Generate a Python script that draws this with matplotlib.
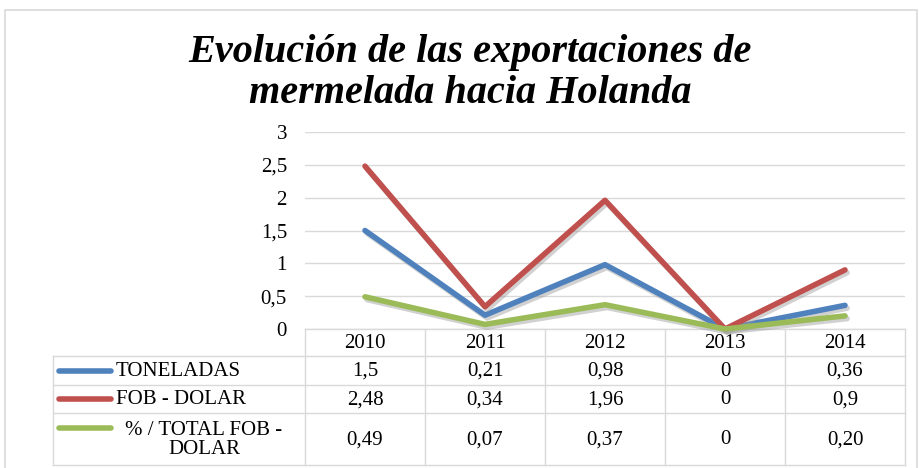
import matplotlib
matplotlib.use("Agg")
import matplotlib.pyplot as plt
import matplotlib.patheffects as pe

years = ["2010", "2011", "2012", "2013", "2014"]
series_names = ["TONELADAS", "FOB - DOLAR", "% / TOTAL FOB -\nDOLAR"]
toneladas = [1.5, 0.21, 0.98, 0, 0.36]
fob_dolar = [2.48, 0.34, 1.96, 0, 0.9]
pct_total = [0.49, 0.07, 0.37, 0, 0.20]
table_text = [["1,5", "0,21", "0,98", "0", "0,36"],
              ["2,48", "0,34", "1,96", "0", "0,9"],
              ["0,49", "0,07", "0,37", "0", "0,20"]]
yticks = [0, 0.5, 1, 1.5, 2, 2.5, 3]
ytick_labels = ["0", "0,5", "1", "1,5", "2", "2,5", "3"]
colors = ["#4F81BD", "#C0504D", "#9BBB59"]
title = "Evolución de las exportaciones de\nmermelada hacia Holanda"

W, H = 919, 468
fig = plt.figure(figsize=(W / 100, H / 100), dpi=100)
plt.rcParams['font.family'] = ['Liberation Serif', 'DejaVu Serif']
FS = 15

# overlay for frame and table (pixel coords)
ov = fig.add_axes([0, 0, 1, 1])
ov.set_xlim(0, W)
ov.set_ylim(H, 0)
ov.axis('off')

# main axes
x0, x1 = 305, 905
y0, y3 = 329, 132
ax = fig.add_axes([x0 / W, 1 - y0 / H, (x1 - x0) / W, (y0 - y3) / H])
ax.set_xlim(-0.5, len(years) - 0.5)
ax.set_ylim(0, 3)
ax.set_yticks(yticks)
ax.set_yticklabels(ytick_labels, fontsize=FS)
ax.set_xticks([])
ax.tick_params(axis='y', length=0, pad=13)
for s in ax.spines.values():
    s.set_visible(False)
ax.grid(axis='y', color='#D9D9D9', linewidth=1)
ax.set_axisbelow(True)
ax.patch.set_alpha(0)
shadow = [pe.SimpleLineShadow(offset=(1.5, -2), shadow_color='#999999', alpha=0.45), pe.Normal()]
for vals, c in zip([toneladas, fob_dolar, pct_total], colors):
    ax.plot(range(len(years)), vals, color=c, linewidth=4, solid_capstyle='round',
            solid_joinstyle='round', path_effects=shadow, clip_on=False)

# title
fig.text(470 / W, 1 - 73 / H, title, ha='center', va='center', fontsize=29,
         fontweight='bold', fontstyle='italic', linespacing=1.15)

# outer frame
ov.plot([5, 5, W - 2, W - 2], [H, 10, 10, H], color='#D9D9D9', linewidth=1.2)

# table
grid_c = '#D9D9D9'
row_edges = [329, 356, 385, 413, 465]
left = 53
col_w = (x1 - x0) / len(years)
col_edges = [x0 + i * col_w for i in range(len(years) + 1)]
ov.plot([x0, x1], [row_edges[0]] * 2, color=grid_c, lw=1)
for r in row_edges[1:]:
    ov.plot([left, x1], [r, r], color=grid_c, lw=1)
ov.plot([left, left], [row_edges[1], row_edges[-1]], color=grid_c, lw=1)
for c in col_edges:
    ov.plot([c, c], [row_edges[0], row_edges[-1]], color=grid_c, lw=1)
for i, yv in enumerate(years):
    ov.text((col_edges[i] + col_edges[i + 1]) / 2, (row_edges[0] + row_edges[1]) / 2 + 1, yv,
            ha='center', va='center', fontsize=FS)
legend_y = [371, 399, 428]
for r, (name, c) in enumerate(zip(series_names, colors)):
    yc = (row_edges[r + 1] + row_edges[r + 2]) / 2
    ov.plot([59, 111], [legend_y[r], legend_y[r]], color=c, lw=4, solid_capstyle='round')
    if '\n' in name:
        ov.text(204, yc + 1, name, ha='center', va='center', fontsize=FS,
                multialignment='center', linespacing=1.05)
    else:
        ov.text(116, yc + 1, name, ha='left', va='center', fontsize=FS)
    for i in range(len(years)):
        ov.text((col_edges[i] + col_edges[i + 1]) / 2, yc + 1, table_text[r][i],
                ha='center', va='center', fontsize=FS)

fig.savefig("out.png", dpi=100)
